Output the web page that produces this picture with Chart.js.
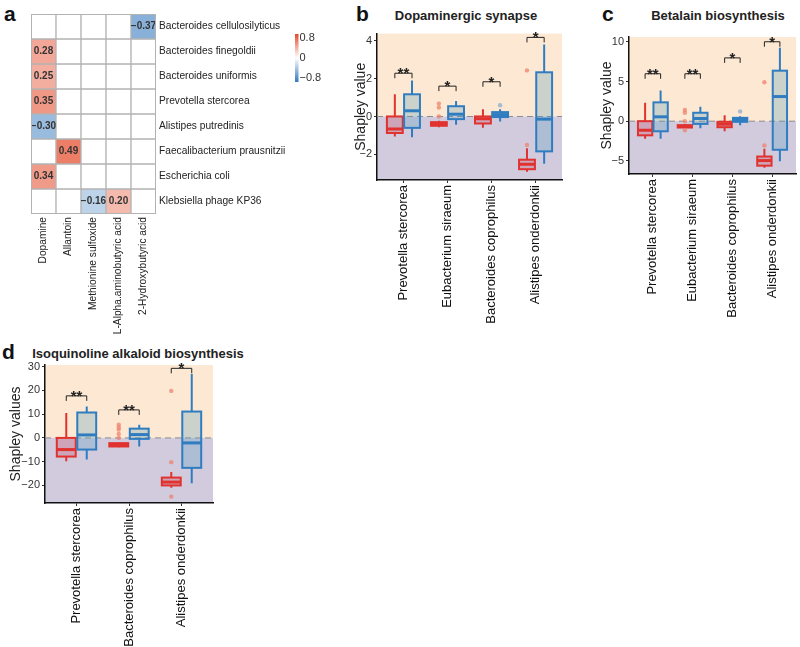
<!DOCTYPE html>
<html>
<head>
<meta charset="utf-8">
<script src="https://cdn.jsdelivr.net/npm/chart.js@4.4.1/dist/chart.umd.min.js"></script>
<style>
  body { margin: 0; background: #fff; }
  #wrap { position: relative; width: 800px; height: 647px; overflow: hidden; font-family: "Liberation Sans", Arial, sans-serif; }
  canvas { position: absolute; }
  .lbl { position: absolute; font-weight: bold; line-height: 1; color: #111; white-space: nowrap; }
  .ttl { position: absolute; font-weight: bold; line-height: 1; color: #222; white-space: nowrap; font-size: 13px; transform: translateX(-50%); }
</style>
</head>
<body>
<div id="wrap">
  <div class="lbl" style="left:4px;top:3px;font-size:21px">a</div>
  <div class="lbl" style="left:356px;top:3px;font-size:21px">b</div>
  <div class="lbl" style="left:602px;top:3px;font-size:21px">c</div>
  <div class="lbl" style="left:2px;top:341px;font-size:21px">d</div>
  <div class="ttl" style="left:466px;top:9px">Dopaminergic synapse</div>
  <div class="ttl" style="left:718px;top:9px">Betalain biosynthesis</div>
  <div class="ttl" style="left:138px;top:347px">Isoquinoline alkaloid biosynthesis</div>
  <canvas id="heat" width="360" height="340" style="left:0;top:0"></canvas>
  <canvas id="dop" width="226" height="305" style="left:349px;top:25px"></canvas>
  <canvas id="bet" width="205" height="305" style="left:595px;top:25px"></canvas>
  <canvas id="iso" width="220" height="292" style="left:4px;top:355px"></canvas>
</div>
<script>
Chart.defaults.font.family = '"Liberation Sans", Arial, sans-serif';

// ---- panel a: correlation heatmap ----
const metabolites = ['Dopamine', 'Allantoin', 'Methionine sulfoxide', 'L-Alpha.aminobutyric acid', '2-Hydroxybutyric acid'];
const species = ['Bacteroides cellulosilyticus', 'Bacteroides finegoldii', 'Bacteroides uniformis', 'Prevotella stercorea',
  'Alistipes putredinis', 'Faecalibacterium prausnitzii', 'Escherichia coli', 'Klebsiella phage KP36'];
const corr = [
  [null, null, null, null, -0.37],
  [0.28, null, null, null, null],
  [0.25, null, null, null, null],
  [0.35, null, null, null, null],
  [-0.30, null, null, null, null],
  [null, 0.49, null, null, null],
  [0.34, null, null, null, null],
  [null, null, -0.16, 0.20, null]
];
const colorbarTicks = [0.8, 0, -0.8];

// ---- panel b: Dopaminergic synapse ----
// stats = [lower whisker, q1, median, q3, upper whisker]
const dopGroups = ['Prevotella stercorea', 'Eubacterium siraeum', 'Bacteroides coprophilus', 'Alistipes onderdonkii'];
const dopRed = [[-1.06, -0.87, -0.66, 0.0, 1.17], [-0.57, -0.49, -0.38, -0.3, -0.23], [-0.59, -0.37, -0.12, 0.0, 0.38], [-2.92, -2.78, -2.52, -2.28, -1.67]];
const dopBlue = [[-1.1, -0.6, 0.3, 1.17, 1.9], [-0.43, -0.14, 0.12, 0.54, 0.82], [-0.26, -0.03, 0.1, 0.23, 0.38], [-2.49, -1.84, -0.14, 2.33, 3.8]];
const dopRedOut = [[], [0.68, 0.47, 0.0], [], [2.43, -1.5]];
const dopBlueOut = [[], [], [0.59], []];
const dopBracket = [2.28, 1.6, 1.83, 4.17];
const dopStars = ['**', '*', '*', '*'];

// ---- panel c: Betalain biosynthesis ----
const betGroups = ['Prevotella stercorea', 'Eubacterium siraeum', 'Bacteroides coprophilus', 'Alistipes onderdonkii'];
const betRed = [[-2.2, -1.78, -1.14, 0.0, 2.33], [-0.9, -0.8, -0.65, -0.5, -0.4], [-1.27, -0.76, -0.38, -0.08, 0.76], [-5.85, -5.6, -4.96, -4.45, -3.47]];
const betBlue = [[-2.2, -1.27, 0.55, 2.37, 3.86], [-0.9, -0.34, 0.34, 1.06, 1.82], [-0.5, -0.08, 0.2, 0.42, 0.63], [-5.04, -3.6, 3.1, 6.36, 9.24]];
const betRedOut = [[], [1.4, 1.06, 0.0, -1.14], [], [4.9, -3.05]];
const betBlueOut = [[], [], [1.23], []];
const betBracket = [5.97, 5.97, 7.97, 10.0];
const betStars = ['**', '**', '*', '*'];

// ---- panel d: Isoquinoline alkaloid biosynthesis ----
const isoGroups = ['Prevotella stercorea', 'Bacteroides coprophilus', 'Alistipes onderdonkii'];
const isoRed = [[-9.8, -7.85, -4.9, 0.0, 10.5], [-3.9, -3.6, -2.9, -2.2, -2.0], [-21, -20, -18.6, -16.7, -14.3]];
const isoBlue = [[-9.1, -4.9, 1.26, 10.7, 13.2], [-3.6, -0.4, 1.4, 3.9, 5.5], [-19.1, -12.6, -2.1, 11.1, 26.9]];
const isoRedOut = [[], [5.6, 4.5, 3.5, 1.7, 0.0], [19.8, -10.2, -24.7]];
const isoBlueOut = [[], [], []];
const isoBracket = [17.7, 11.8, 29.3];
const isoStars = ['**', '**', '*'];

const RED = '#e0322f', BLUE = '#2f7dc0';
const RED_FILL = 'rgba(200,80,100,0.3)', BLUE_FILL = 'rgba(90,160,190,0.3)';
const minus = v => String(v).replace('-', '\u2212');

function colorFor(v) {
  const t = Math.pow(Math.min(Math.abs(v) / 0.8, 1), 0.7);
  const end = v >= 0 ? [228, 72, 40] : [50, 120, 190];
  const c = end.map(e => Math.round(255 - t * (255 - e)));
  return `rgb(${c[0]},${c[1]},${c[2]})`;
}

const heatPlugin = {
  id: 'heatLabels',
  afterDatasetsDraw(chart) {
    const ctx = chart.ctx, a = chart.chartArea;
    ctx.save();
    ctx.font = 'bold 10px "Liberation Sans", Arial, sans-serif';
    ctx.fillStyle = '#333';
    ctx.textAlign = 'center';
    ctx.textBaseline = 'middle';
    corr.forEach((row, r) => {
      const meta = chart.getDatasetMeta(r);
      row.forEach((v, c) => {
        if (v === null) return;
        const el = meta.data[c];
        ctx.fillText(minus(v.toFixed(2)), el.x, (el.y + el.base) / 2);
      });
    });
    ctx.strokeStyle = '#b3b3b3';
    ctx.lineWidth = 1;
    ctx.strokeRect(a.left + 0.5, a.top + 0.5, a.width - 1, a.height - 1);
    // colour bar
    const g = ctx.createLinearGradient(0, 34, 0, 82);
    g.addColorStop(0, colorFor(0.8));
    g.addColorStop(0.5, '#ffffff');
    g.addColorStop(1, colorFor(-0.8));
    ctx.fillStyle = g;
    ctx.fillRect(295, 34, 3.5, 48);
    ctx.font = '11px "Liberation Sans", Arial, sans-serif';
    ctx.fillStyle = '#333';
    ctx.textAlign = 'left';
    colorbarTicks.forEach((v, i) => {
      ctx.fillText(v === 0 ? '0' : minus(v), 299.5, 38 + i * 20);
    });
    ctx.restore();
  }
};

new Chart(document.getElementById('heat'), {
  type: 'bar',
  data: {
    labels: metabolites,
    datasets: species.map((sp, r) => ({
      label: sp,
      data: metabolites.map(() => 1),
      backgroundColor: corr[r].map(v => v === null ? '#ffffff' : colorFor(v)),
      borderColor: '#b3b3b3',
      borderWidth: 1,
      borderSkipped: false,
      barPercentage: 1,
      categoryPercentage: 1
    }))
  },
  options: {
    responsive: false,
    animation: false,
    layout: { padding: { left: 31, top: 14, right: 0, bottom: 0 } },
    plugins: { legend: { display: false }, tooltip: { enabled: false } },
    scales: {
      x: {
        stacked: true,
        grid: { display: false, drawTicks: false },
        border: { display: false },
        ticks: { minRotation: 90, maxRotation: 90, autoSkip: false, font: { size: 10.2 }, color: '#222', padding: 3 },
        afterFit: s => { s.height = 126; }
      },
      y: {
        stacked: true,
        position: 'right',
        reverse: true,
        min: 0,
        max: 8,
        grid: { display: false, drawTicks: false },
        border: { display: false },
        afterBuildTicks: s => { s.ticks = species.map((_, i) => ({ value: i + 0.5 })); },
        ticks: { autoSkip: false, callback: v => species[Math.floor(v)], font: { size: 10.2 }, color: '#222', padding: 3 },
        afterFit: s => { s.width = 204; }
      }
    }
  },
  plugins: [heatPlugin]
});

// ---- box plot panels ----
function makeBoxPlugin(red, blue, bracket, stars) {
  return {
    id: 'boxes',
    beforeDraw(chart) {
      const { ctx, chartArea: a, scales: { y } } = chart;
      const y0 = y.getPixelForValue(0);
      ctx.save();
      ctx.fillStyle = '#fde9d3';
      ctx.fillRect(a.left, a.top, a.width, y0 - a.top);
      ctx.fillStyle = '#d1cbdd';
      ctx.fillRect(a.left, y0, a.width, a.bottom - y0);
      ctx.restore();
    },
    beforeDatasetsDraw(chart) {
      const { ctx, chartArea: a, scales: { x, y } } = chart;
      const y0 = y.getPixelForValue(0);
      ctx.save();
      ctx.setLineDash([6, 4]);
      ctx.strokeStyle = '#8c8c8c';
      ctx.lineWidth = 1;
      ctx.beginPath(); ctx.moveTo(a.left, y0); ctx.lineTo(a.right, y0); ctx.stroke();
      ctx.setLineDash([]);

      const drawBox = (cx, st, stroke, fill) => {
        const [lo, q1, med, q3, hi] = st;
        const xl = x.getPixelForValue(cx - 0.18), xr = x.getPixelForValue(cx + 0.18), xc = x.getPixelForValue(cx);
        const py = v => y.getPixelForValue(v);
        ctx.strokeStyle = stroke;
        ctx.lineWidth = 2;
        ctx.beginPath();
        ctx.moveTo(xc, py(hi)); ctx.lineTo(xc, py(q3));
        ctx.moveTo(xc, py(q1)); ctx.lineTo(xc, py(lo));
        ctx.stroke();
        ctx.fillStyle = fill;
        ctx.fillRect(xl, py(q3), xr - xl, py(q1) - py(q3));
        ctx.strokeRect(xl, py(q3), xr - xl, py(q1) - py(q3));
        ctx.lineWidth = 3;
        ctx.beginPath(); ctx.moveTo(xl, py(med)); ctx.lineTo(xr, py(med)); ctx.stroke();
      };
      red.forEach((st, i) => drawBox(i + 1 - 0.195, st, RED, RED_FILL));
      blue.forEach((st, i) => drawBox(i + 1 + 0.195, st, BLUE, BLUE_FILL));

      ctx.strokeStyle = '#222';
      ctx.fillStyle = '#222';
      ctx.lineWidth = 1;
      ctx.textAlign = 'center';
      ctx.textBaseline = 'alphabetic';
      ctx.font = 'bold 15px "Liberation Sans", Arial, sans-serif';
      bracket.forEach((b, i) => {
        const x1 = x.getPixelForValue(i + 1 - 0.195), x2 = x.getPixelForValue(i + 1 + 0.195);
        const yb = y.getPixelForValue(b);
        ctx.beginPath();
        ctx.moveTo(x1, yb + 5); ctx.lineTo(x1, yb); ctx.lineTo(x2, yb); ctx.lineTo(x2, yb + 5);
        ctx.stroke();
        ctx.fillText(stars[i], (x1 + x2) / 2, yb + 5);
      });
      ctx.restore();
    }
  };
}

function outlierPoints(out, side) {
  const pts = [];
  out.forEach((vals, i) => vals.forEach(v => pts.push({ x: i + 1 + side * 0.195, y: v })));
  return pts;
}

function createBoxChart(id, groups, red, blue, redOut, blueOut, bracket, stars, yTitle, yMin, yMax, step, yW, xH, pad) {
  return new Chart(document.getElementById(id), {
    type: 'scatter',
    data: {
      datasets: [
        { data: outlierPoints(redOut, -1), backgroundColor: 'rgba(238,130,110,0.75)', borderWidth: 0, pointRadius: 2.2 },
        { data: outlierPoints(blueOut, 1), backgroundColor: 'rgba(150,180,205,0.85)', borderWidth: 0, pointRadius: 2.2 }
      ]
    },
    options: {
      responsive: false,
      animation: false,
      layout: { padding: pad },
      plugins: { legend: { display: false }, tooltip: { enabled: false } },
      scales: {
        x: {
          type: 'linear',
          min: 0.4,
          max: groups.length + 0.6,
          afterBuildTicks: s => { s.ticks = groups.map((_, i) => ({ value: i + 1 })); },
          ticks: { callback: v => groups[Math.round(v) - 1], minRotation: 90, maxRotation: 90, autoSkip: false,
                   font: { size: 13 }, color: '#111', padding: 2 },
          grid: { drawOnChartArea: false, tickLength: 3, color: '#333' },
          border: { display: true, color: '#111', width: 1.5 },
          afterFit: s => { s.height = xH; }
        },
        y: {
          min: yMin,
          max: yMax,
          ticks: { stepSize: step, includeBounds: false, callback: v => minus(v), font: { size: 11 }, color: '#333', padding: 2 },
          grid: { drawOnChartArea: false, tickLength: 3, color: '#333' },
          border: { display: true, color: '#111', width: 1.5 },
          title: { display: true, text: yTitle, font: { size: 14 }, color: '#222', padding: { top: 4, bottom: 2 } },
          afterFit: s => { s.width = yW; }
        }
      }
    },
    plugins: [makeBoxPlugin(red, blue, bracket, stars)]
  });
}

createBoxChart('dop', dopGroups, dopRed, dopBlue, dopRedOut, dopBlueOut, dopBracket, dopStars,
  'Shapley value', -3.35, 4.37, 2, 28, 150, { left: 0, top: 7, right: 13, bottom: 0 });
createBoxChart('bet', betGroups, betRed, betBlue, betRedOut, betBlueOut, betBracket, betStars,
  'Shapley value', -6.65, 10.6, 5, 34, 156, { left: 0, top: 12, right: 0, bottom: 0 });
createBoxChart('iso', isoGroups, isoRed, isoBlue, isoRedOut, isoBlueOut, isoBracket, isoStars,
  'Shapley values', -27.4, 30.7, 10, 41, 144, { left: 0, top: 10, right: 11, bottom: 0 });
</script>
</body>
</html>
